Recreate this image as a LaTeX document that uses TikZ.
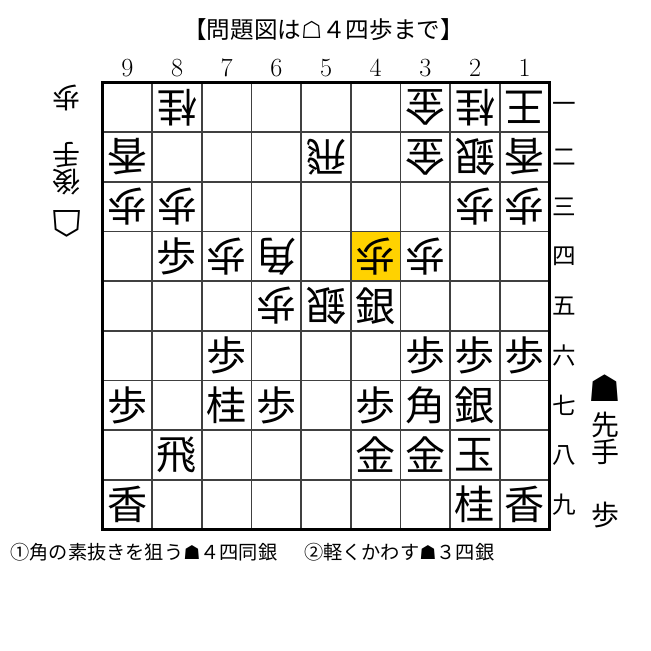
\documentclass[tikz,border=0pt]{standalone}
\usepackage{fontspec}
\newfontfamily\jp{Noto Sans CJK JP}
\newfontfamily\shogisym{DejaVu Sans}
\usepackage{tikz}
\usetikzlibrary{positioning}
\definecolor{lastmove}{HTML}{FFD200}

\begin{document}
\begin{tikzpicture}[
  cellline/.style={line width=1.1pt, draw=black!75},
  frame/.style={line width=2.1pt, draw=black},
  piece/.style={font=\jp\fontsize{23}{23}\selectfont, inner sep=0pt},
  gotepiece/.style={piece, rotate=180},
  filenum/.style={font=\fontsize{15}{15}\selectfont, inner sep=0pt},
  ranknum/.style={font=\jp\fontsize{13.5}{13.5}\selectfont, inner sep=0pt},
  side/.style={font=\jp\fontsize{16}{15.4}\selectfont, inner sep=0pt, align=center},
  sidemark/.style={font=\shogisym\fontsize{21}{21}\selectfont, inner sep=0pt},
  caption/.style={font=\jp\fontsize{13.5}{13.5}\selectfont, inner sep=0pt}
]
  \useasboundingbox (-2.064,1.661) rectangle (11.043,-11.446);
  \fill[lastmove] (5,-3) rectangle (6,-4);
  \draw[cellline] (0,0) grid (9,-9);
  \draw[frame] (0,0) rectangle (9,-9);

  \foreach \f in {1,...,9}
    \node[filenum] (file-\f) at (9.5-\f,0.3) {\f};
  \foreach \r/\k in {1/一,2/二,3/三,4/四,5/五,6/六,7/七,8/八,9/九}
    \node[ranknum] (rank-\r) at (9.3,0.5-\r) {\k};

  \foreach \f/\r/\k in {8/4/歩,4/5/銀,7/6/歩,3/6/歩,2/6/歩,1/6/歩,9/7/歩,7/7/桂,6/7/歩,4/7/歩,3/7/角,2/7/銀,8/8/飛,4/8/金,3/8/金,2/8/玉,9/9/香,2/9/桂,1/9/香}
    \node[piece] (p-\f-\r) at (9.5-\f,0.5-\r) {\k};
  \foreach \f/\r/\k in {8/1/桂,3/1/金,2/1/桂,1/1/王,9/2/香,5/2/飛,3/2/金,2/2/銀,1/2/香,9/3/歩,8/3/歩,2/3/歩,1/3/歩,7/4/歩,6/4/角,4/4/歩,3/4/歩,6/5/歩,5/5/銀}
    \node[gotepiece] (p-\f-\r) at (9.5-\f,0.5-\r) {\k};

  \node[side, rotate=180] (gote-hand) at (-0.715,-0.31) {歩};
  \node[side, rotate=180] (gote-name) at (-0.715,-1.73) {後\\手};
  \node[sidemark, rotate=180] (gote-mark) at (-0.715,-2.84) {☖};

  \node[sidemark] (sente-mark) at (10.12,-6.16) {☗};
  \node[side] (sente-name) at (10.12,-7.17) {先\\手};
  \node[side] (sente-hand) at (10.12,-8.71) {歩};

  \node[caption] (title) at (4.45,1.06) {【問題図は{\shogisym ☖}４四歩まで】};
  \node[caption, anchor=west, font=\jp\fontsize{11}{11}\selectfont] (note) at (-1.86,-9.45)
    {①角の素抜きを狙う{\shogisym ☗}４四同銀\hspace{1.4em}②軽くかわす{\shogisym ☗}３四銀};
\end{tikzpicture}
\end{document}
